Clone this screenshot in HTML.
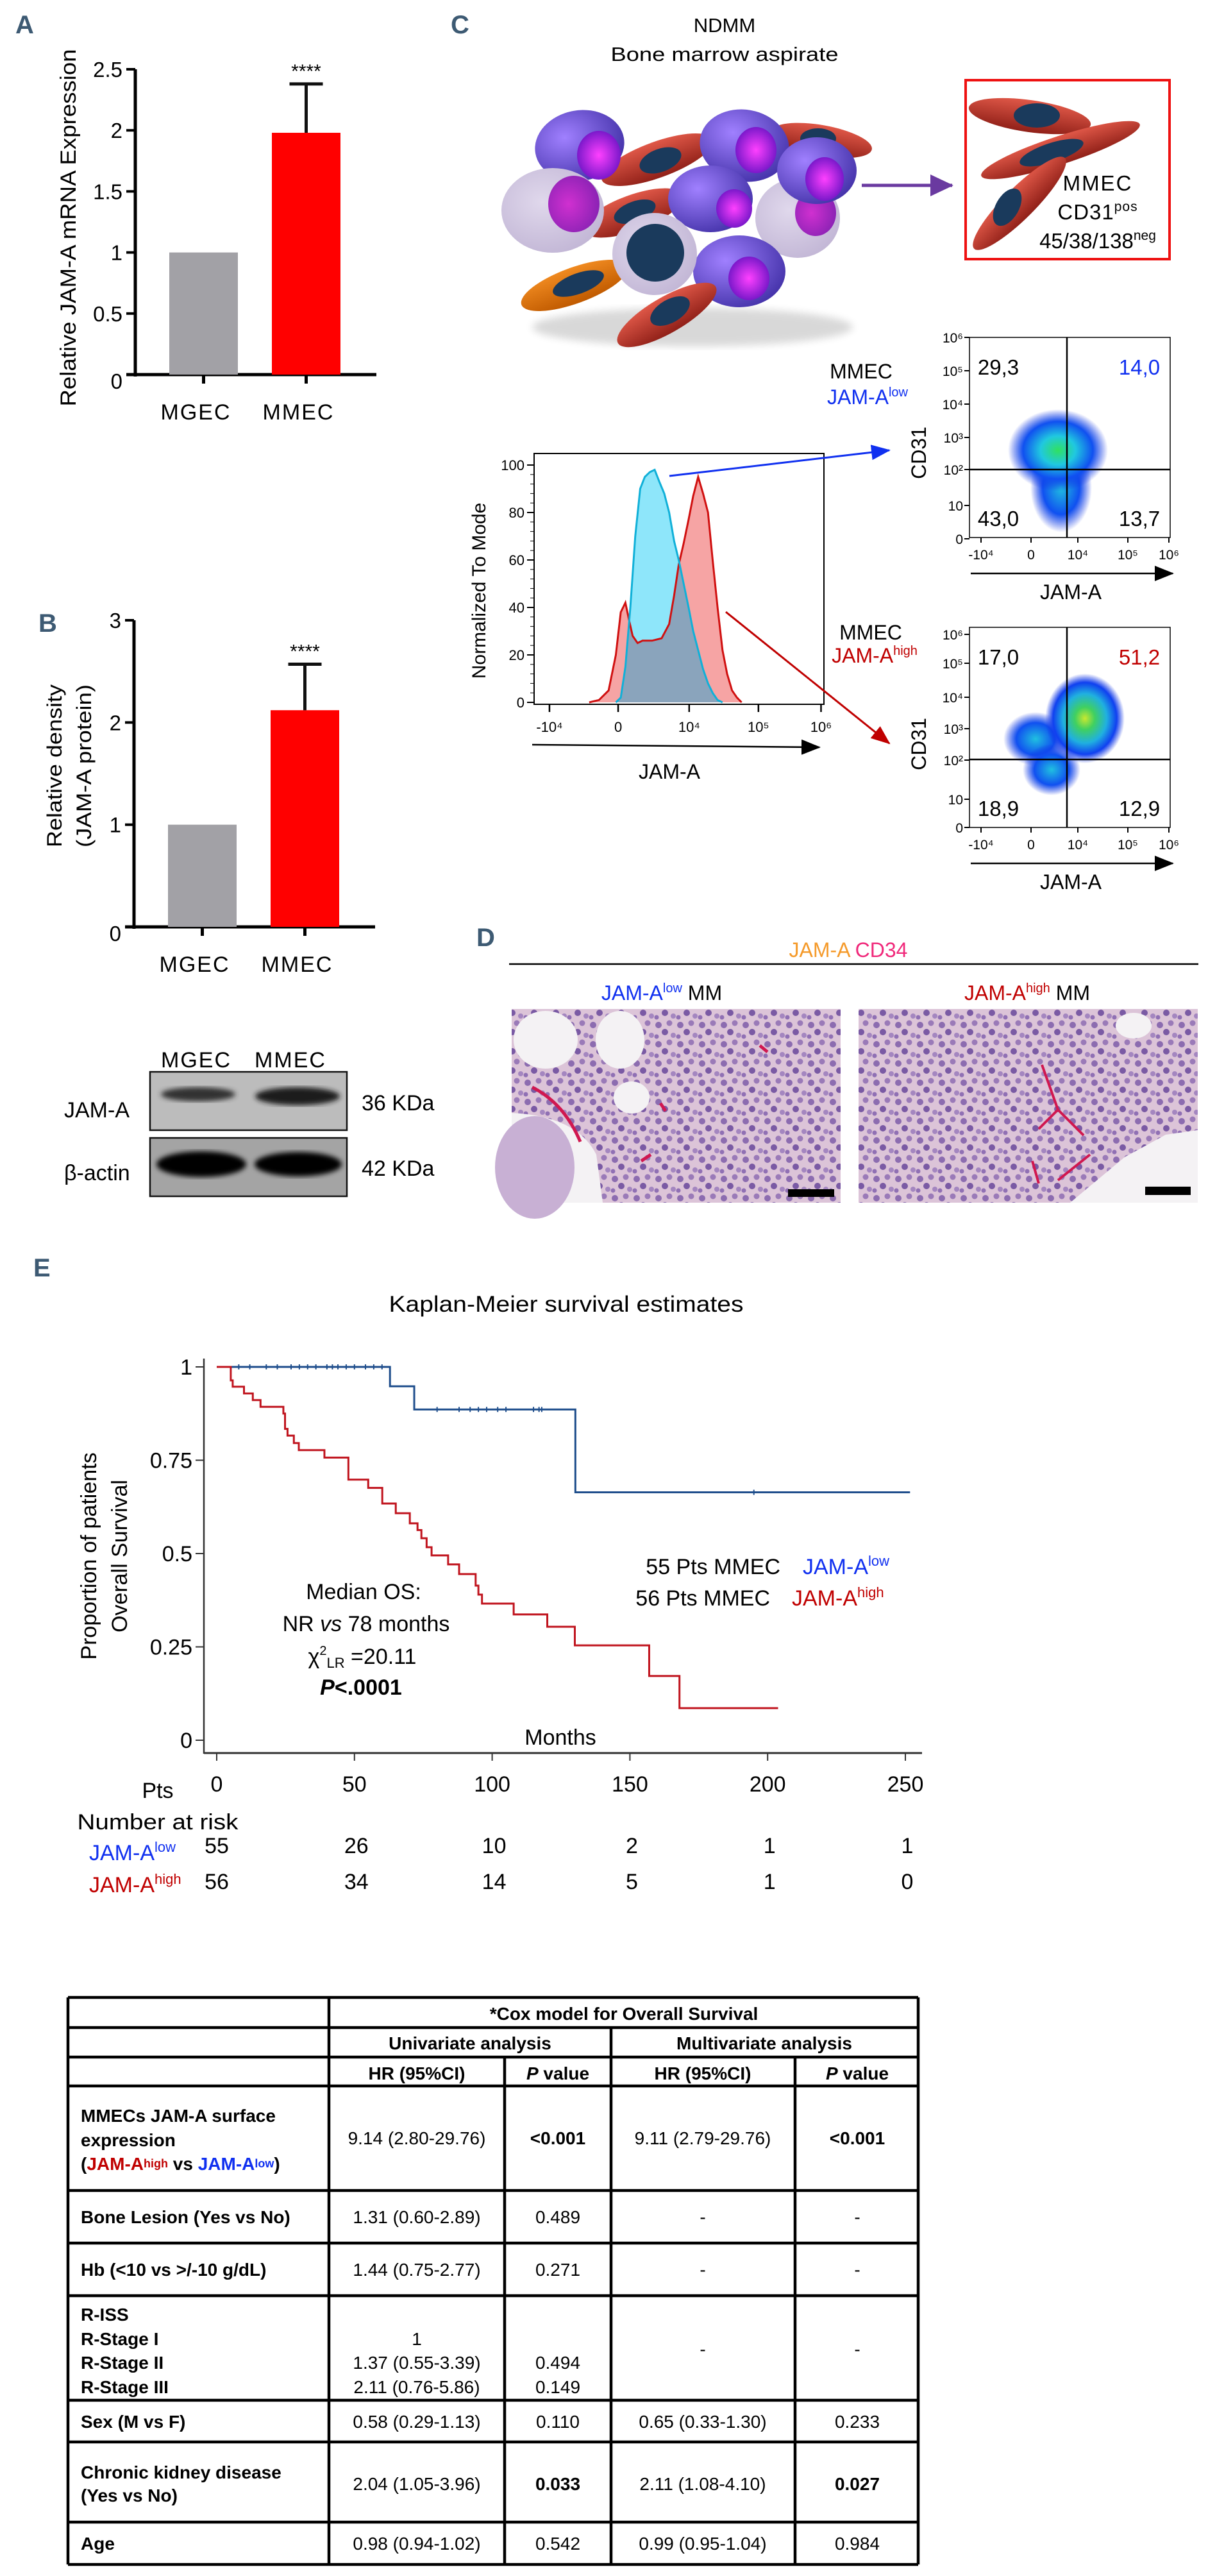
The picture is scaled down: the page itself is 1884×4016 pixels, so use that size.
<!DOCTYPE html>
<html><head><meta charset="utf-8"><style>
html,body{margin:0;padding:0;background:#fff}
svg{display:block}
text{font-family:"Liberation Sans",Arial,sans-serif}
</style></head><body>
<svg id="fig" xmlns="http://www.w3.org/2000/svg" width="1884" height="4016" viewBox="0 0 1884 4016">
<defs>
<marker id="arrBig" markerWidth="30" markerHeight="24" refX="28" refY="12" orient="auto" markerUnits="userSpaceOnUse"><path d="M0,0 L30,12 L0,24 z" fill="#000"/></marker>
<marker id="arrBlue" markerWidth="30" markerHeight="24" refX="28" refY="12" orient="auto" markerUnits="userSpaceOnUse"><path d="M0,0 L30,12 L0,24 z" fill="#1030f0"/></marker>
<marker id="arrRed" markerWidth="30" markerHeight="24" refX="28" refY="12" orient="auto" markerUnits="userSpaceOnUse"><path d="M0,0 L30,12 L0,24 z" fill="#c00000"/></marker>
<marker id="arrPurple" markerWidth="36" markerHeight="34" refX="34" refY="17" orient="auto" markerUnits="userSpaceOnUse"><path d="M0,0 L36,17 L0,34 z" fill="#6a3aa0"/></marker>
<radialGradient id="gViolet" cx="0.35" cy="0.35" r="0.8"><stop offset="0" stop-color="#a080ff"/><stop offset="1" stop-color="#3a2aa0"/></radialGradient>
<radialGradient id="gNuc" cx="0.5" cy="0.5" r="0.6"><stop offset="0" stop-color="#ff40ff"/><stop offset="1" stop-color="#6010c0"/></radialGradient>
<radialGradient id="gMag" cx="0.4" cy="0.5" r="0.7"><stop offset="0" stop-color="#d030d0"/><stop offset="1" stop-color="#8020b0"/></radialGradient>
<linearGradient id="gRed" x1="0" y1="0" x2="0" y2="1"><stop offset="0" stop-color="#e05848"/><stop offset="1" stop-color="#902018"/></linearGradient>
<linearGradient id="gOrange" x1="0" y1="0" x2="0" y2="1"><stop offset="0" stop-color="#f08a20"/><stop offset="1" stop-color="#c05a00"/></linearGradient>
<radialGradient id="gLav" cx="0.4" cy="0.4" r="0.7"><stop offset="0" stop-color="#e0d8ec"/><stop offset="1" stop-color="#c0b4d4"/></radialGradient>
<radialGradient id="gDot1" cx="0.5" cy="0.5" r="0.5"><stop offset="0" stop-color="#30e060"/><stop offset="0.35" stop-color="#20c8e0"/><stop offset="0.7" stop-color="#1050f0"/><stop offset="1" stop-color="#1030e0" stop-opacity="0"/></radialGradient>
<radialGradient id="gDot2" cx="0.5" cy="0.5" r="0.5"><stop offset="0" stop-color="#c8e830"/><stop offset="0.25" stop-color="#40d060"/><stop offset="0.55" stop-color="#20b0e0"/><stop offset="0.8" stop-color="#1040f0"/><stop offset="1" stop-color="#1030e0" stop-opacity="0"/></radialGradient>
<radialGradient id="gDot3" cx="0.5" cy="0.5" r="0.5"><stop offset="0" stop-color="#20c0e0"/><stop offset="0.6" stop-color="#1050f0"/><stop offset="1" stop-color="#1030e0" stop-opacity="0"/></radialGradient>
<filter id="blur3"><feGaussianBlur stdDeviation="4"/></filter>
<filter id="shadow"><feGaussianBlur stdDeviation="6"/></filter>
<pattern id="tissue" width="34" height="30" patternUnits="userSpaceOnUse">
<rect width="34" height="30" fill="#dcc4d8"/>
<circle cx="7" cy="8" r="5" fill="#8c6cb0"/><circle cx="24" cy="5" r="4.5" fill="#9a7ab8"/>
<circle cx="17" cy="19" r="5" fill="#7a5aa4"/><circle cx="30" cy="24" r="4" fill="#a486c0"/>
<circle cx="4" cy="26" r="3.5" fill="#9070b4"/>
</pattern>
</defs>

<!-- Panel A -->
<g id="panelA">
<text x="24" y="52" font-size="40" font-weight="bold" fill="#3d5a73">A</text>
<text transform="translate(118,355) rotate(-90)" text-anchor="middle" font-size="34" textLength="557" lengthAdjust="spacingAndGlyphs">Relative JAM-A mRNA Expression</text>
<g id="aAxis"></g><g id="aBars"></g>
</g>

<!-- Panel B -->
<g id="panelB">
<text x="60" y="985" font-size="40" font-weight="bold" fill="#3d5a73">B</text>
<text transform="translate(96,1194) rotate(-90)" text-anchor="middle" font-size="32" textLength="254" lengthAdjust="spacingAndGlyphs">Relative density</text>
<text transform="translate(142,1194) rotate(-90)" text-anchor="middle" font-size="32" textLength="254" lengthAdjust="spacingAndGlyphs">(JAM-A protein)</text>
<g id="bAxis"></g><g id="bBars"></g>
</g>

<!-- Western blot -->
<g>
<text x="306" y="1664" text-anchor="middle" font-size="34" letter-spacing="2">MGEC</text>
<text x="453" y="1664" text-anchor="middle" font-size="34" letter-spacing="2">MMEC</text>
<rect x="234" y="1671" width="307" height="91" fill="#bcbcbc" stroke="#111" stroke-width="2.5"/>
<ellipse cx="309" cy="1706" rx="58" ry="11" fill="#333" filter="url(#blur3)"/>
<ellipse cx="464" cy="1709" rx="66" ry="14" fill="#1a1a1a" filter="url(#blur3)"/>
<rect x="234" y="1774" width="307" height="91" fill="#a4a4a4" stroke="#111" stroke-width="2.5"/>
<ellipse cx="314" cy="1815" rx="70" ry="20" fill="#050505" filter="url(#blur3)"/>
<ellipse cx="465" cy="1815" rx="68" ry="19" fill="#050505" filter="url(#blur3)"/>
<text x="100" y="1742" font-size="34">JAM-A</text>
<text x="100" y="1840" font-size="34">β-actin</text>
<text x="564" y="1731" font-size="34">36 KDa</text>
<text x="564" y="1833" font-size="34">42 KDa</text>
</g>

<!-- Panel C -->
<g id="panelC">
<text x="703" y="52" font-size="40" font-weight="bold" fill="#3d5a73">C</text>
<text x="1130" y="50" text-anchor="middle" font-size="31">NDMM</text>
<text x="1130" y="95" text-anchor="middle" font-size="31" textLength="355" lengthAdjust="spacingAndGlyphs">Bone marrow aspirate</text>

<g>
<ellipse cx="1080" cy="510" rx="250" ry="30" fill="#000" opacity="0.15" filter="url(#shadow)"/>
<ellipse cx="1281" cy="219" rx="80" ry="24" transform="rotate(10 1281 219)" fill="url(#gRed)"/><ellipse cx="1276" cy="216" rx="28" ry="16" fill="#1a3a5c"/>
<ellipse cx="1025" cy="249" rx="92" ry="28" transform="rotate(-20 1025 249)" fill="url(#gRed)"/><ellipse cx="1030" cy="250" rx="34" ry="18" transform="rotate(-20 1030 250)" fill="#1a3a5c"/>
<ellipse cx="987" cy="332" rx="82" ry="28" transform="rotate(-20 987 332)" fill="url(#gRed)"/><ellipse cx="990" cy="330" rx="34" ry="16" transform="rotate(-20 990 330)" fill="#1a3a5c"/>
<ellipse cx="904" cy="227" rx="70" ry="55" transform="rotate(-10 904 227)" fill="url(#gViolet)"/><ellipse cx="934" cy="242" rx="34" ry="38" fill="url(#gNuc)"/>
<ellipse cx="862" cy="328" rx="80" ry="66" fill="url(#gLav)"/><ellipse cx="895" cy="318" rx="40" ry="44" fill="url(#gMag)"/>
<ellipse cx="1244" cy="340" rx="66" ry="62" fill="url(#gLav)"/><ellipse cx="1272" cy="332" rx="32" ry="36" fill="url(#gMag)"/>
<ellipse cx="1161" cy="227" rx="70" ry="56" transform="rotate(10 1161 227)" fill="url(#gViolet)"/><ellipse cx="1179" cy="234" rx="32" ry="36" fill="url(#gNuc)"/>
<ellipse cx="1274" cy="266" rx="62" ry="52" fill="url(#gViolet)"/><ellipse cx="1286" cy="279" rx="30" ry="34" fill="url(#gNuc)"/>
<ellipse cx="1108" cy="310" rx="66" ry="52" fill="url(#gViolet)"/><ellipse cx="1145" cy="325" rx="28" ry="30" fill="url(#gNuc)"/>
<ellipse cx="896" cy="445" rx="88" ry="28" transform="rotate(-20 896 445)" fill="url(#gOrange)"/><ellipse cx="902" cy="442" rx="42" ry="16" transform="rotate(-20 902 442)" fill="#1a3a5c"/>
<ellipse cx="1153" cy="423" rx="72" ry="56" fill="url(#gViolet)"/><ellipse cx="1168" cy="434" rx="32" ry="34" fill="url(#gNuc)"/>
<ellipse cx="1021" cy="396" rx="66" ry="64" fill="url(#gLav)"/><circle cx="1022" cy="394" r="45" fill="#1a3a5c"/>
<ellipse cx="1040" cy="491" rx="88" ry="28" transform="rotate(-30 1040 491)" fill="url(#gRed)"/><ellipse cx="1045" cy="485" rx="34" ry="18" transform="rotate(-30 1045 485)" fill="#1a3a5c"/>
</g>
<line x1="1344" y1="289" x2="1485" y2="289" stroke="#6a3aa0" stroke-width="5" marker-end="url(#arrPurple)"/>
<rect x="1506" y="125" width="318" height="279" fill="none" stroke="#ee1111" stroke-width="4"/>
<g>
<ellipse cx="1606" cy="181" rx="96" ry="25" transform="rotate(8 1606 181)" fill="url(#gRed)"/><ellipse cx="1617" cy="180" rx="36" ry="19" fill="#1a3a5c"/>
<ellipse cx="1654" cy="234" rx="130" ry="22" transform="rotate(-18 1654 234)" fill="url(#gRed)"/><ellipse cx="1640" cy="238" rx="52" ry="15" transform="rotate(-18 1640 238)" fill="#1a3a5c"/>
<ellipse cx="1590" cy="317" rx="100" ry="24" transform="rotate(-45 1590 317)" fill="url(#gRed)"/><ellipse cx="1571" cy="323" rx="32" ry="18" transform="rotate(-60 1571 323)" fill="#1a3a5c"/>
</g>
<text x="1712" y="297" text-anchor="middle" font-size="33" letter-spacing="2">MMEC</text>
<text x="1712" y="342" text-anchor="middle" font-size="33" letter-spacing="1">CD31<tspan font-size="21" dy="-13">pos</tspan></text>
<text x="1712" y="387" text-anchor="middle" font-size="33">45/38/138<tspan font-size="21" dy="-13">neg</tspan></text>

<g id="hist"></g>
<text transform="translate(757,921) rotate(-90)" text-anchor="middle" font-size="30">Normalized To Mode</text>
<line x1="830" y1="1161" x2="1278" y2="1165" stroke="#000" stroke-width="2.5" marker-end="url(#arrBig)"/>
<text x="1044" y="1214" text-anchor="middle" font-size="32">JAM-A</text>
<line x1="1044" y1="742" x2="1387" y2="702" stroke="#1030f0" stroke-width="3" marker-end="url(#arrBlue)"/>
<line x1="1132" y1="954" x2="1387" y2="1159" stroke="#c00000" stroke-width="3" marker-end="url(#arrRed)"/>

<text x="1343" y="590" text-anchor="middle" font-size="32">MMEC</text>
<text x="1353" y="630" text-anchor="middle" font-size="32" fill="#1030f0">JAM-A<tspan font-size="20" dy="-12">low</tspan></text>
<text x="1358" y="997" text-anchor="middle" font-size="32">MMEC</text>
<text x="1364" y="1033" text-anchor="middle" font-size="32" fill="#c00000">JAM-A<tspan font-size="20" dy="-12">high</tspan></text>
<g id="dot1"></g>
<g id="dot2"></g>
</g>

<!-- Panel D -->
<g id="panelD">
<text x="743" y="1475" font-size="40" font-weight="bold" fill="#3d5a73">D</text>
<text x="1323" y="1492" text-anchor="middle" font-size="32"><tspan fill="#f59a2a">JAM-A</tspan> <tspan fill="#f0287a">CD34</tspan></text>
<line x1="794" y1="1503" x2="1869" y2="1503" stroke="#000" stroke-width="2.5"/>
<text x="1032" y="1559" text-anchor="middle" font-size="32"><tspan fill="#1030f0">JAM-A<tspan font-size="20" dy="-12">low</tspan></tspan><tspan dy="12"> MM</tspan></text>
<text x="1602" y="1559" text-anchor="middle" font-size="32"><tspan fill="#c00000">JAM-A<tspan font-size="20" dy="-12">high</tspan></tspan><tspan dy="12"> MM</tspan></text>
<g>
<rect x="798" y="1573" width="513" height="302" fill="url(#tissue)"/>
<path d="M798,1735 Q900,1740 930,1800 L940,1875 L798,1875 Z" fill="#f4f2f4"/>
<ellipse cx="834" cy="1820" rx="62" ry="80" fill="#c8b0d4"/>
<ellipse cx="851" cy="1621" rx="50" ry="45" fill="#f4f2f4"/>
<ellipse cx="967" cy="1621" rx="38" ry="45" fill="#f4f2f4"/>
<ellipse cx="985" cy="1711" rx="28" ry="25" fill="#f4f2f4"/>
<path d="M830,1695 Q880,1720 905,1780" stroke="#d01850" stroke-width="5" fill="none"/>
<path d="M1185,1630 l12,10 M1030,1720 l8,12 M1000,1810 l15,-10" stroke="#d01850" stroke-width="5"/>
<rect x="1229" y="1854" width="72" height="12" fill="#000"/>
</g>
<g>
<rect x="1339" y="1573" width="529" height="302" fill="url(#tissue)"/>
<path d="M1669,1875 L1754,1804 L1818,1769 L1868,1762 L1868,1875 Z" fill="#f4f2f4"/>
<ellipse cx="1768" cy="1599" rx="28" ry="20" fill="#f4f2f4"/>
<path d="M1625,1660 L1650,1730 L1690,1770 M1650,1730 L1620,1760 M1700,1800 L1650,1840 M1620,1845 L1610,1810" stroke="#d01850" stroke-width="4" fill="none"/>
<rect x="1786" y="1850" width="71" height="13" fill="#000"/>
</g>
</g>

<!-- Panel E -->
<g id="panelE">
<text x="52" y="1990" font-size="40" font-weight="bold" fill="#3d5a73">E</text>
<text x="883" y="2045" text-anchor="middle" font-size="35" textLength="553" lengthAdjust="spacingAndGlyphs">Kaplan-Meier survival estimates</text>
<text transform="translate(150,2426) rotate(-90)" text-anchor="middle" font-size="34">Proportion of patients</text>
<text transform="translate(198,2426) rotate(-90)" text-anchor="middle" font-size="34">Overall  Survival</text>
<g id="km"></g>
<text x="874" y="2720" text-anchor="middle" font-size="34">Months</text>
<text x="567" y="2493" text-anchor="middle" font-size="34">Median OS:</text>
<text x="571" y="2543" text-anchor="middle" font-size="34">NR <tspan font-style="italic">vs</tspan> 78 months</text>
<text x="565" y="2594" text-anchor="middle" font-size="34">χ<tspan font-size="20" dy="-14">2</tspan><tspan font-size="22" dy="20">LR</tspan><tspan dy="-6"> =20.11</tspan></text>
<text x="563" y="2642" text-anchor="middle" font-size="34" font-weight="bold"><tspan font-style="italic">P</tspan>&lt;.0001</text>
<text x="1217" y="2454" text-anchor="end" font-size="34">55 Pts MMEC</text>
<text x="1252" y="2454" font-size="34" fill="#1030f0">JAM-A<tspan font-size="22" dy="-13">low</tspan></text>
<text x="1201" y="2503" text-anchor="end" font-size="34">56 Pts MMEC</text>
<text x="1235" y="2503" font-size="34" fill="#c00000">JAM-A<tspan font-size="22" dy="-13">high</tspan></text>
<text x="246" y="2803" text-anchor="middle" font-size="34">Pts</text>
<text x="246" y="2852" text-anchor="middle" font-size="34" textLength="251" lengthAdjust="spacingAndGlyphs">Number at risk</text>
<text x="139" y="2900" font-size="34" fill="#1030f0">JAM-A<tspan font-size="22" dy="-13">low</tspan></text>
<text x="139" y="2950" font-size="34" fill="#c00000">JAM-A<tspan font-size="22" dy="-13">high</tspan></text>
<g id="risk"></g>
</g>

<g id="cox"></g>
</svg>

<script>
const barCats = ["MGEC", "MMEC"];
const barA = [1.0, 1.98];
const errA = [0, 0.40];
const barB = [1.0, 2.12];
const errB = [0, 0.45];
const ticksA = [0, 0.5, 1, 1.5, 2, 2.5];
const tickLabelsA = ["0", "0.5", "1", "1.5", "2", "2.5"];
const ticksB = [0, 1, 2, 3];

const histX = [19.0,22.4,25.7,28.2,29.9,31.5,32.7,34.0,35.7,37.4,40.7,44.0,46.6,48.3,49.9,51.6,53.3,54.9,56.6,58.3,60.0,61.6,63.3,65.0,66.6,68.3,70.0,71.6];
const histRed = [0,1,5,20,38,42,35,28,25,26,26,27,33,45,58,67,77,87,95,88,80,60,40,22,12,5,2,0];
const cyanX = [28.2,29.9,31.5,33.2,34.9,36.6,38.2,39.9,41.6,43.2,44.9,46.6,48.3,49.9,51.6,53.3,54.9,56.6,58.3,60.0,61.6,63.3,65.0];
const histCyan = [0,2,15,40,70,90,95,97,98,93,88,80,68,60,50,40,30,22,14,8,4,1,0];
const histYTicks = [0,20,40,60,80,100];
const logTickLabels = ["-10⁴","0","10⁴","10⁵","10⁶"];
const histTickPos = [5.3,29,53.5,77.4,99];

const quad1 = ["29,3","14,0","43,0","13,7"];
const quad2 = ["17,0","51,2","18,9","12,9"];
const cdTicks = ["10⁶","10⁵","10⁴","10³","10²","10","0"];

const blueT = [62.9, 71.7, 130.2];
const blueS = [0.948, 0.886, 0.664];
const blueEnd = 251.7;
const blueCensor = [8,12,18,22,27,30,33,36,40,42,44,47,50,54,57,60,80,88,92,95,98,102,105,115,117,118,195];
const redT = [5.1,5.8,9.9,13.1,15.9,24.2,24.8,25.7,28,29.8,39.1,47.8,55,60.1,65,70.1,72.9,74.3,76.2,78,84,88,94,95,96.3,107.8,120,130,157,168];
const redS = [0.964,0.947,0.929,0.911,0.893,0.875,0.834,0.816,0.796,0.777,0.757,0.698,0.676,0.634,0.608,0.581,0.563,0.541,0.517,0.495,0.471,0.445,0.414,0.39,0.366,0.337,0.304,0.254,0.172,0.086];
const redEnd = 203.8;
const kmYTicks = [0, 0.25, 0.5, 0.75, 1];
const kmYLabels = ["0","0.25","0.5","0.75","1"];
const kmXTicks = [0,50,100,150,200,250];
const riskLow = [55,26,10,2,1,1];
const riskHigh = [56,34,14,5,1,0];

const NS = "http://www.w3.org/2000/svg";
function el(tag, attrs, parent, txt){
  const e = document.createElementNS(NS, tag);
  for (const k in attrs) e.setAttribute(k, attrs[k]);
  if (txt !== undefined) e.textContent = txt;
  parent.appendChild(e); return e;
}

function barChart(axisG, barG, cfg, vals, errs, ticks, labels){
  const y = v => cfg.y0 - (v / cfg.max) * (cfg.y0 - cfg.yTop);
  const a = el('line', {x1:cfg.x0, y1:cfg.yTop, x2:cfg.x0, y2:cfg.y0+3, stroke:'#000','stroke-width':5}, axisG);
   
  const xa = el('line', {x1:cfg.x0-14, y1:cfg.y0, x2:cfg.xEnd, y2:cfg.y0, stroke:'#000','stroke-width':5}, axisG);
   
  ticks.forEach((t,i)=>{
    el('line',{x1:cfg.x0-14,y1:y(t),x2:cfg.x0,y2:y(t),stroke:'#000','stroke-width':4},axisG);
    const tl = el('text',{x:cfg.x0-20,y:y(t)+(t===0?22:12),'text-anchor':'end','font-size':33},axisG,labels[i]);
     
  });
  vals.forEach((v,i)=>{
    const bx = cfg.bx[i], w = cfg.bw;
    const r = el('rect',{x:bx,y:y(v),width:w,height:cfg.y0-y(v),fill:i===0?'#a2a1a6':'#ff0000'},barG);
     
    const cx = bx + w/2;
    el('line',{x1:cx,y1:cfg.y0,x2:cx,y2:cfg.y0+14,stroke:'#000','stroke-width':5},axisG);
    const lab = el('text',{x:cx-12,y:cfg.labY,'text-anchor':'middle','font-size':34,'letter-spacing':2},axisG,barCats[i]);
     
    if (errs[i] > 0){
      const top = y(v+errs[i]);
      el('line',{x1:cx,y1:y(v),x2:cx,y2:top,stroke:'#111','stroke-width':5},barG);
      const cap = el('line',{x1:cx-26,y1:top,x2:cx+26,y2:top,stroke:'#111','stroke-width':5},barG);
       
      const st = el('text',{x:cx,y:top-10,'text-anchor':'middle','font-size':30},barG,'****');
       
    }
  });
}
barChart(document.getElementById('aAxis'), document.getElementById('aBars'),
  {x0:211,yTop:108,y0:584,max:2.5,xEnd:587,bx:[264,424],bw:107,labY:654}, barA, errA, ticksA, tickLabelsA);
barChart(document.getElementById('bAxis'), document.getElementById('bBars'),
  {x0:209,yTop:967,y0:1445,max:3,xEnd:585,bx:[262,422],bw:107,labY:1515}, barB, errB, ticksB, ticksB.map(String));

(function(){
  const g = document.getElementById('hist');
  const X0=833, X1=1285, Y0=1095, Y100=725;
  const hx = c => X0 + c*(X1-X0)/100;
  const hy = v => Y0 - v*(Y0-Y100)/100;
  el('rect',{x:833,y:707,width:452,height:391,fill:'none',stroke:'#000','stroke-width':2},g);
  function interp(xs, vs, c){
    if (c<=xs[0]||c>=xs[xs.length-1]) return 0;
    for (let i=1;i<xs.length;i++) if (c<=xs[i]) { const f=(c-xs[i-1])/(xs[i]-xs[i-1]); return vs[i-1]+f*(vs[i]-vs[i-1]); }
    return 0;
  }
  function poly(xs, vs){ let d='M'+hx(xs[0])+','+hy(0); xs.forEach((c,i)=>{ d+=' L'+hx(c)+','+hy(vs[i]); }); return d+' L'+hx(xs[xs.length-1])+','+hy(0)+' Z'; }
  const rf = el('path',{d:poly(histX,histRed),fill:'#f6a4a4'},g);
   
  const cf = el('path',{d:poly(cyanX,histCyan),fill:'#8ee6fa'},g);
   
  let d='M'+hx(cyanX[0])+','+hy(0);
  for (let c=cyanX[0]; c<=cyanX[cyanX.length-1]; c+=0.25){ const v=Math.min(interp(cyanX,histCyan,c), interp(histX,histRed,c)); d+=' L'+hx(c)+','+hy(v); }
  d+=' L'+hx(cyanX[cyanX.length-1])+','+hy(0)+' Z';
  const ov = el('path',{d:d,fill:'#8aa4bc'},g);
   
  function line(xs,vs){ let p=''; xs.forEach((c,i)=>{ p+=(i?' L':'M')+hx(c)+','+hy(vs[i]); }); return p; }
  const rl = el('path',{d:line(histX,histRed),fill:'none',stroke:'#d01010','stroke-width':3},g);
   
  const cl = el('path',{d:line(cyanX,histCyan),fill:'none',stroke:'#10b0d8','stroke-width':3},g);
   
  histYTicks.forEach(t=>{
    el('line',{x1:822,y1:hy(t),x2:833,y2:hy(t),stroke:'#000','stroke-width':2},g);
    const tl = el('text',{x:818,y:hy(t)+8,'text-anchor':'end','font-size':22},g,String(t));
     
  });
  for (let t=0;t<=100;t+=4) el('line',{x1:827,y1:hy(t),x2:833,y2:hy(t),stroke:'#000','stroke-width':1},g);
  logTickLabels.forEach((s,i)=>{
    const x = hx(histTickPos[i]);
    el('line',{x1:x,y1:1098,x2:x,y2:1110,stroke:'#000','stroke-width':2.5},g);
    const tl = el('text',{x:x,y:1141,'text-anchor':'middle','font-size':22},g,s);
     
  });
})();

function dotPlot(g, cfg, quad, colors){
  const L=1512,R=1825,T=cfg.top,B=cfg.top+312;
  el('rect',{x:L,y:T,width:R-L,height:B-T,fill:'#fff',stroke:'#000','stroke-width':1.5},g);
  cfg.blobs.forEach(b=>{ el('ellipse',{cx:b[0],cy:b[1],rx:b[2],ry:b[3],fill:'url(#'+b[4]+')'},g); });
  el('line',{x1:1664,y1:T,x2:1664,y2:B,stroke:'#000','stroke-width':2.5},g);
  el('line',{x1:L,y1:cfg.hy,x2:R,y2:cfg.hy,stroke:'#000','stroke-width':2.5},g);
  const pos=[[1557,T+58],[1777,T+58],[1557,B-18],[1777,B-18]];
  quad.forEach((q,i)=>{
    const t = el('text',{x:pos[i][0],y:pos[i][1],'text-anchor':'middle','font-size':33,fill:colors[i]},g,q);
     
  });
  cdTicks.forEach((s,i)=>{
    const y = cfg.yt[i];
    el('line',{x1:L-8,y1:y,x2:L,y2:y,stroke:'#000','stroke-width':2},g);
    const t = el('text',{x:L-10,y:y+8,'text-anchor':'end','font-size':21},g,s);
     
  });
  const xt=[1530,1608,1681,1759,1823];
  logTickLabels.forEach((s,i)=>{
    el('line',{x1:xt[i],y1:B,x2:xt[i],y2:B+8,stroke:'#000','stroke-width':2},g);
    const t = el('text',{x:xt[i],y:B+34,'text-anchor':'middle','font-size':21},g,s);
     
  });
  el('line',{x1:1514,y1:B+56,x2:1829,y2:B+56,stroke:'#000','stroke-width':2.5,'marker-end':'url(#arrBig)'},g);
  const xl = el('text',{x:1670,y:B+96,'text-anchor':'middle','font-size':32},g,'JAM-A');
   
  const yl = el('text',{transform:'translate(1444,'+cfg.cdY+') rotate(-90)','text-anchor':'middle','font-size':32},g,'CD31');
   
}
dotPlot(document.getElementById('dot1'), {top:526, hy:732, cdY:706,
  yt:[526,578,630,682,732,788,840],
  blobs:[[1655,760,48,70,'gDot3'],[1650,702,78,64,'gDot1']]}, quad1, ['#000','#1030f0','#000','#000']);
dotPlot(document.getElementById('dot2'), {top:978, hy:1184, cdY:1160,
  yt:[989,1034,1087,1136,1185,1246,1290],
  blobs:[[1615,1152,50,42,'gDot3'],[1640,1200,45,40,'gDot3'],[1692,1120,62,70,'gDot2']]}, quad2, ['#000','#c00000','#000','#000']);

(function(){
  const g = document.getElementById('km');
  const kx = t => 338 + t*(1412-338)/250;
  const ky = s => 2713 - s*(2713-2131);
  el('line',{x1:318,y1:2118,x2:318,y2:2734,stroke:'#333','stroke-width':2.5},g);
  el('line',{x1:318,y1:2733,x2:1438,y2:2733,stroke:'#333','stroke-width':3},g);
  kmYTicks.forEach((t,i)=>{
    el('line',{x1:305,y1:ky(t),x2:318,y2:ky(t),stroke:'#333','stroke-width':2},g);
    const tl = el('text',{x:300,y:ky(t)+12,'text-anchor':'end','font-size':34},g,kmYLabels[i]);
     
  });
  kmXTicks.forEach(t=>{
    el('line',{x1:kx(t),y1:2733,x2:kx(t),y2:2745,stroke:'#333','stroke-width':2},g);
    const tl = el('text',{x:kx(t),y:2793,'text-anchor':'middle','font-size':34},g,String(t));
     
  });
  function step(ts, ss, end){
    let d='M'+kx(0)+','+ky(1);
    ts.forEach((t,i)=>{ d+=' H'+kx(t)+' V'+ky(ss[i]); });
    return d+' H'+kx(end);
  }
  const bl = el('path',{d:step(blueT,blueS,blueEnd),fill:'none',stroke:'#1f4e8c','stroke-width':3},g);
   
  blueCensor.forEach(t=>{
    let s=1; blueT.forEach((bt,i)=>{ if (t>=bt) s=blueS[i]; });
    el('line',{x1:kx(t),y1:ky(s)-4,x2:kx(t),y2:ky(s)+4,stroke:'#1f4e8c','stroke-width':2},g);
  });
  const rl = el('path',{d:step(redT,redS,redEnd),fill:'none',stroke:'#c0141e','stroke-width':3},g);
   
  const rg = document.getElementById('risk');
  kmXTicks.forEach((t,i)=>{
    const x = i===0 ? 338 : kx(t)+3;
    const a = el('text',{x:x,y:2889,'text-anchor':'middle','font-size':34},rg,String(riskLow[i]));
     
    const b = el('text',{x:x,y:2945,'text-anchor':'middle','font-size':34},rg,String(riskHigh[i]));
     
  });
})();

(function(){
  const g = document.getElementById('cox');
  const rows=[3114,3161,3207,3252,3415,3497,3579,3742,3807,3932,3998];
  const lw=4.5;
  rows.forEach(y=>el('line',{x1:106,y1:y,x2:1432,y2:y,stroke:'#000','stroke-width':lw},g));
  el('line',{x1:106,y1:3114,x2:106,y2:3998,stroke:'#000','stroke-width':lw},g);
  el('line',{x1:1432,y1:3114,x2:1432,y2:3998,stroke:'#000','stroke-width':lw},g);
  el('line',{x1:513,y1:3114,x2:513,y2:3998,stroke:'#000','stroke-width':lw},g);
  el('line',{x1:953,y1:3161,x2:953,y2:3998,stroke:'#000','stroke-width':lw},g);
  [787,1240].forEach(x=>el('line',{x1:x,y1:3207,x2:x,y2:3998,stroke:'#000','stroke-width':lw},g));
  function t(x,y,s,opt){ const e=el('text',Object.assign({x:x,y:y,'font-size':28,'text-anchor':'middle'},opt||{}),g,s);   return e; }
  const B={'font-weight':'bold'};
  t(973,3149,'*Cox model for Overall Survival',B);
  t(733,3195,'Univariate analysis',B);
  t(1192,3195,'Multivariate analysis',B);
  t(650,3242,'HR (95%CI)',B);
  t(1096,3242,'HR (95%CI)',B);
  const pv1=t(870,3242,'',B); pv1.innerHTML='<tspan font-style="italic">P</tspan> value';
  const pv2=t(1337,3242,'',B); pv2.innerHTML='<tspan font-style="italic">P</tspan> value';
  const L={'text-anchor':'start','font-weight':'bold'};
  t(126,3308,'MMECs JAM-A surface',L);
  t(126,3346,'expression',L);
  const r3=t(126,3383,'',L); r3.innerHTML='(<tspan fill="#c00000">JAM-A<tspan font-size="18" dy="-4">high</tspan></tspan><tspan dy="4"> vs </tspan><tspan fill="#1030f0">JAM-A<tspan font-size="18" dy="-4">low</tspan></tspan><tspan dy="4">)</tspan>';
  t(650,3343,'9.14 (2.80-29.76)'); t(870,3343,'<0.001',B);
  t(1096,3343,'9.11 (2.79-29.76)'); t(1337,3343,'<0.001',B);
  t(126,3466,'Bone Lesion (Yes vs No)',L); t(650,3466,'1.31 (0.60-2.89)'); t(870,3466,'0.489'); t(1096,3466,'-'); t(1337,3466,'-');
  t(126,3548,'Hb (<10 vs >/-10 g/dL)',L); t(650,3548,'1.44 (0.75-2.77)'); t(870,3548,'0.271'); t(1096,3548,'-'); t(1337,3548,'-');
  t(126,3618,'R-ISS',L); t(126,3656,'R-Stage I',L); t(126,3693,'R-Stage II',L); t(126,3731,'R-Stage III',L);
  t(650,3656,'1'); t(650,3693,'1.37 (0.55-3.39)'); t(650,3731,'2.11 (0.76-5.86)');
  t(870,3693,'0.494'); t(870,3731,'0.149'); t(1096,3672,'-'); t(1337,3672,'-');
  t(126,3785,'Sex (M vs F)',L); t(650,3785,'0.58 (0.29-1.13)'); t(870,3785,'0.110'); t(1096,3785,'0.65 (0.33-1.30)'); t(1337,3785,'0.233');
  t(126,3864,'Chronic kidney disease',L); t(126,3900,'(Yes vs No)',L);
  t(650,3882,'2.04 (1.05-3.96)'); t(870,3882,'0.033',B); t(1096,3882,'2.11 (1.08-4.10)'); t(1337,3882,'0.027',B);
  t(126,3975,'Age',L); t(650,3975,'0.98 (0.94-1.02)'); t(870,3975,'0.542'); t(1096,3975,'0.99 (0.95-1.04)'); t(1337,3975,'0.984');
})();
</script>
</body></html>
